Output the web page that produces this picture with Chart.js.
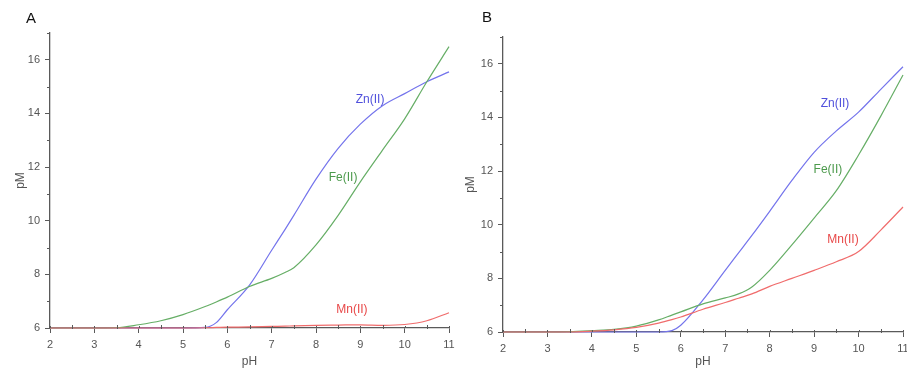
<!DOCTYPE html>
<html>
<head>
<meta charset="utf-8">
<script src="https://cdn.jsdelivr.net/npm/chart.js@4.4.1/dist/chart.umd.min.js"></script>
<style>
    html, body { margin: 0; padding: 0; background: #fff; overflow: hidden; }
    .panel { position: absolute; top: 0; }
    #panelA { left: 0; }
    #panelB { left: 455px; }
</style>
</head>
<body>
<div class="panel" id="panelA"><canvas id="chartA" width="460" height="368"></canvas></div>
<div class="panel" id="panelB"><canvas id="chartB" width="460" height="368"></canvas></div>
<script>
// 軸の目盛り
const xTicks = [2, 3, 4, 5, 6, 7, 8, 9, 10, 11];
const xMinorTicks = [2.5, 3.5, 4.5, 5.5, 6.5, 7.5, 8.5, 9.5, 10.5];
const yTicks = [6, 8, 10, 12, 14, 16];
const yMinorTicks = [7, 9, 11, 13, 15, 17];

// パネルA のデータ
const phA = [2, 3, 3.5, 4, 4.5, 5, 5.5, 5.75, 6, 6.5, 7, 7.3, 7.5, 8, 8.5, 9, 9.5, 10, 10.5, 11];
const znA = [6, 6, 6, 6, 6, 6, 6.02, 6.2, 6.68, 7.6, 8.9, 9.67, 10.2, 11.55, 12.7, 13.6, 14.29, 14.74, 15.18, 15.55];
const feA = [6, 6, 6.01, 6.12, 6.27, 6.5, 6.8, 6.97, 7.15, 7.55, 7.85, 8.07, 8.25, 9.1, 10.2, 11.45, 12.63, 13.8, 15.18, 16.49];
const mnA = [6, 6, 6, 6, 6, 6, 6.01, 6.02, 6.03, 6.04, 6.06, 6.07, 6.08, 6.1, 6.11, 6.12, 6.1, 6.13, 6.27, 6.57];

// パネルB のデータ
const phB = [2, 3, 3.5, 4, 4.5, 5, 5.5, 5.8, 6, 6.5, 7, 7.3, 7.6, 8, 8.5, 9, 9.5, 10, 10.5, 11];
const znB = [6, 6, 6, 6, 6, 6, 6, 6.05, 6.25, 7.2, 8.3, 8.95, 9.6, 10.5, 11.65, 12.7, 13.5, 14.2, 15.05, 15.89];
const feB = [6, 6, 6.01, 6.05, 6.1, 6.22, 6.45, 6.63, 6.75, 7.05, 7.27, 7.42, 7.68, 8.3, 9.25, 10.25, 11.27, 12.6, 14.05, 15.58];
const mnB = [6, 6, 6, 6.03, 6.08, 6.17, 6.33, 6.46, 6.56, 6.85, 7.1, 7.26, 7.42, 7.7, 8.0, 8.3, 8.62, 9.0, 9.8, 10.66];

// 曲線ラベル（データ座標）
const labelsA = [
    { text: 'Zn(II)', ph: 9.22, pm: 14.53, color: '#5050dc' },
    { text: 'Fe(II)', ph: 8.61, pm: 11.62, color: '#4c9a4c' },
    { text: 'Mn(II)', ph: 8.81, pm: 6.70, color: '#e84848' }
];
const labelsB = [
    { text: 'Zn(II)', ph: 9.47, pm: 14.5, color: '#5050dc' },
    { text: 'Fe(II)', ph: 9.31, pm: 12.07, color: '#4c9a4c' },
    { text: 'Mn(II)', ph: 9.65, pm: 9.46, color: '#e84848' }
];

const ZN_COLOR = '#7474ec';
const FE_COLOR = '#66ae66';
const MN_COLOR = '#f06c6c';
const AXIS_COLOR = '#5a5a5a';
const TEXT_COLOR = '#555';
const FONT = 'Liberation Sans, Arial, sans-serif';

/**
 * 補助目盛り・曲線ラベル・パネル記号の描画
 */
const panelDecor = {
    id: 'panelDecor',
    afterDraw(chart, args, opts) {
        const { ctx } = chart;
        const x = chart.scales.x;
        const y = chart.scales.y;
        ctx.save();
        ctx.strokeStyle = AXIS_COLOR;
        ctx.lineWidth = 1;
        ctx.beginPath();
        xMinorTicks.forEach(v => {
            const px = Math.round(x.getPixelForValue(v)) + 0.5;
            ctx.moveTo(px, x.top - 3);
            ctx.lineTo(px, x.top + 1);
        });
        // 主目盛りは軸の内側へも少し出す
        xTicks.forEach(v => {
            const px = Math.round(x.getPixelForValue(v)) + 0.5;
            ctx.moveTo(px, x.top - 2);
            ctx.lineTo(px, x.top);
        });
        yMinorTicks.forEach(v => {
            const py = Math.round(y.getPixelForValue(v)) + 0.5;
            ctx.moveTo(y.right - 3, py);
            ctx.lineTo(y.right, py);
        });
        ctx.stroke();

        ctx.font = '12px ' + FONT;
        ctx.textAlign = 'center';
        ctx.textBaseline = 'middle';
        opts.labels.forEach(l => {
            ctx.fillStyle = l.color;
            ctx.fillText(l.text, x.getPixelForValue(l.ph), y.getPixelForValue(l.pm));
        });

        ctx.font = '15px ' + FONT;
        ctx.fillStyle = '#111';
        ctx.fillText(opts.letter, opts.letterX, opts.letterY);
        ctx.restore();
    }
};

function makeDataset(ph, values, color) {
    return {
        data: ph.map((v, i) => ({ x: v, y: values[i] })),
        borderColor: color,
        borderWidth: 1.2,
        pointRadius: 0,
        fill: false,
        clip: 4,
        cubicInterpolationMode: 'monotone'
    };
}

/**
 * パネルの作成
 */
function makePanel(canvasId, ph, zn, fe, mn, cfg) {
    const ctx = document.getElementById(canvasId).getContext('2d');
    return new Chart(ctx, {
        type: 'line',
        data: {
            datasets: [
                makeDataset(ph, mn, MN_COLOR),
                makeDataset(ph, fe, FE_COLOR),
                makeDataset(ph, zn, ZN_COLOR)
            ]
        },
        options: {
            responsive: false,
            animation: false,
            devicePixelRatio: 1,
            layout: { padding: { left: 0, right: cfg.padRight, top: cfg.padTop, bottom: 0 } },
            plugins: {
                legend: { display: false },
                tooltip: { enabled: false },
                panelDecor: cfg.decor
            },
            scales: {
                x: {
                    type: 'linear',
                    min: 2,
                    max: 11,
                    afterBuildTicks: s => { s.ticks = xTicks.map(v => ({ value: v })); },
                    afterFit: s => { s.height = cfg.xHeight; },
                    ticks: {
                        autoSkip: false,
                        maxRotation: 0,
                        padding: 5,
                        color: TEXT_COLOR,
                        font: { family: FONT, size: 11 },
                        callback: v => String(v)
                    },
                    grid: { drawOnChartArea: false, tickLength: 5, color: AXIS_COLOR },
                    border: { color: AXIS_COLOR, width: 1.3 },
                    title: {
                        display: true,
                        text: 'pH',
                        color: TEXT_COLOR,
                        font: { family: FONT, size: 12, lineHeight: 1 },
                        padding: { top: 0, bottom: 0 }
                    }
                },
                y: {
                    type: 'linear',
                    min: 6,
                    max: 17,
                    afterBuildTicks: s => { s.ticks = yTicks.map(v => ({ value: v })); },
                    afterFit: s => { s.width = cfg.yWidth; },
                    ticks: {
                        padding: 5,
                        color: TEXT_COLOR,
                        font: { family: FONT, size: 11 },
                        callback: v => String(v)
                    },
                    grid: { drawOnChartArea: false, tickLength: 5, color: AXIS_COLOR },
                    border: { color: AXIS_COLOR, width: 1.3 },
                    title: {
                        display: true,
                        text: 'pM',
                        color: TEXT_COLOR,
                        font: { family: FONT, size: 12 },
                        padding: { top: cfg.yTitlePad, bottom: 0 }
                    }
                }
            }
        },
        plugins: [panelDecor]
    });
}

makePanel('chartA', phA, znA, feA, mnA, {
    padRight: 11, padTop: 33, xHeight: 40, yWidth: 50, yTitlePad: 13,
    decor: { labels: labelsA, letter: 'A', letterX: 31, letterY: 19 }
});

makePanel('chartB', phB, znB, feB, mnB, {
    padRight: 12, padTop: 37, xHeight: 36, yWidth: 48, yTitlePad: 8,
    decor: { labels: labelsB, letter: 'B', letterX: 32, letterY: 18 }
});
</script>
</body>
</html>
